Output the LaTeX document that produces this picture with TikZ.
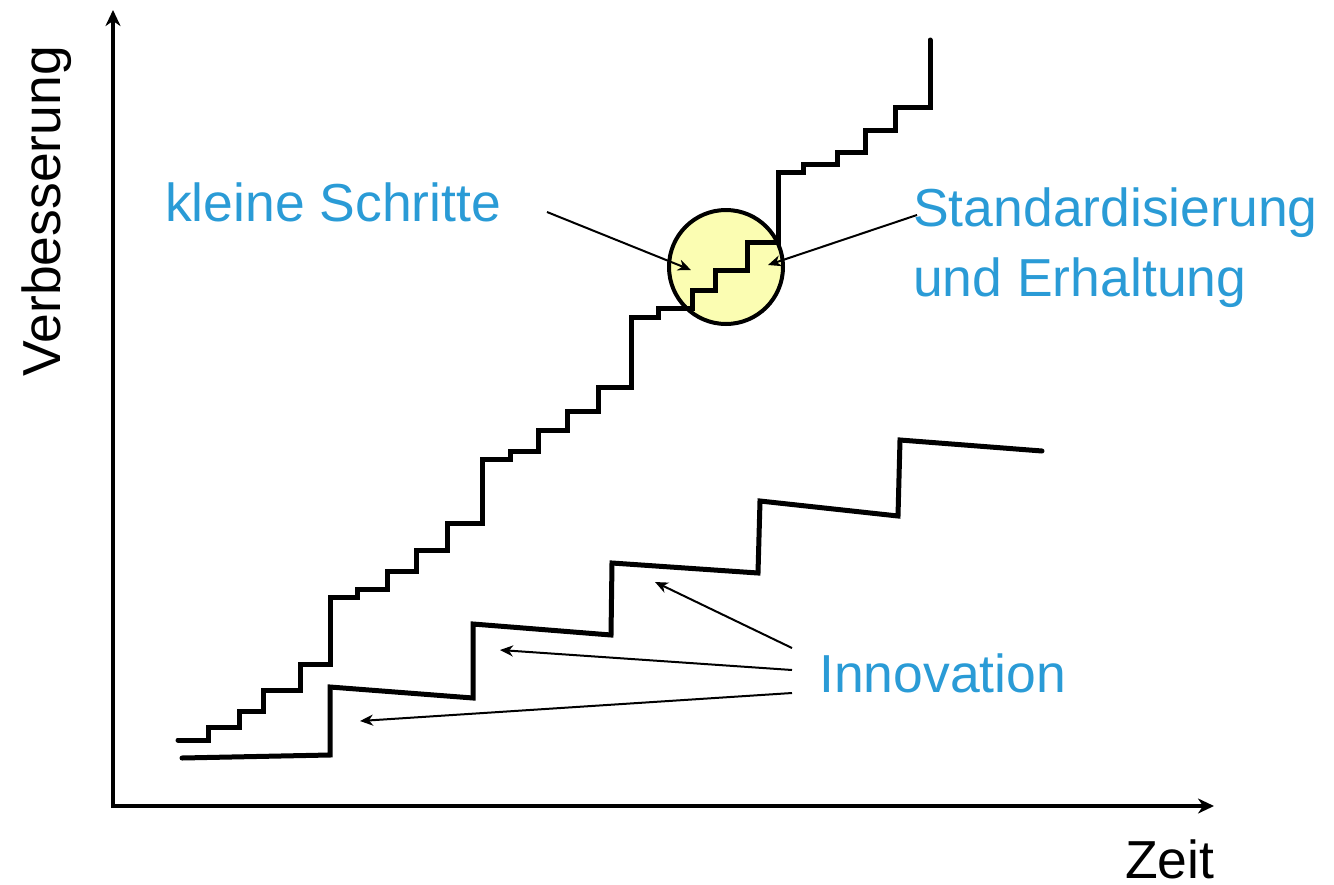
\documentclass[tikz,border=0pt]{standalone}
\usepackage{fontspec}
\setmainfont{Liberation Sans}
\usetikzlibrary{arrows.meta}
\definecolor{lblue}{HTML}{2A9BD6}
\definecolor{lyellow}{HTML}{FBFDB2}
\tikzset{
  stairline/.style={line width=5pt, line join=miter, line cap=round},
  axisline/.style={line width=4pt, -{Stealth[length=16pt,width=15pt,inset=5pt]}},
  pointer/.style={line width=2pt, -{Stealth[length=13pt,width=11pt,inset=4pt]}},
  bluelabel/.style={text=lblue, font=\fontsize{53.5}{64}\selectfont, inner sep=0pt, anchor=base west},
  blacklabel/.style={text=black, font=\fontsize{53.5}{64}\selectfont, inner sep=0pt},
}
\begin{document}
\begin{tikzpicture}[x=1pt,y=-1pt]
\useasboundingbox (0,0) rectangle (1334,884);
% axes
\coordinate (o) at (113,806);
\coordinate (ytop) at (113,10);
\coordinate (xend) at (1214,806);
\draw[axisline] (113,808) -- (ytop);
\draw[axisline] (111,806) -- (xend);
\node[blacklabel, rotate=90, anchor=base] (yl) at (60,211) {Verbesserung};
\node[blacklabel, anchor=base west, text depth=0pt] (xl) at (1125,878) {Zeit};
% circle
\node[circle, draw, line width=4pt, fill=lyellow, minimum size=114pt, inner sep=0pt] (circ) at (726,267) {};
% upper staircase
\draw[stairline] (178,740) -- (208,740) |- (239,727) |- (263,711) |- (300,690) |- (330,664)
  |- (357,597) |- (387,589) |- (416,571) |- (447,550) |- (482,523) |- (510,459)
  |- (538,451) |- (567,430) |- (598,411) |- (631,387) |- (658,317) |- (692,308)
  |- (715,290) |- (747,270) |- (778,242) |- (803,172) |- (837,164) |- (865,152)
  |- (895,130) |- (930,107) -- (930,40);
% lower zigzag
\draw[stairline] (182,758) -- (330,755) -- (330,687) -- (473,698) -- (473,624) -- (611,635)
  -- (612,563) -- (758,573) -- (760,501) -- (898,516) -- (900,440) -- (1042,451);
% labels
\node[bluelabel] (ks) at (165,221) {kleine Schritte};
\node[bluelabel] (st) at (913,226) {Standardisierung};
\node[bluelabel] (ue) at (913,296) {und Erhaltung};
\node[bluelabel] (inn) at (819,692) {Innovation};
% pointer coordinates
\coordinate (ksA) at (547,212);
\coordinate (ksB) at (691,270);
\coordinate (stA) at (917,215);
\coordinate (stB) at (768,265);
\coordinate (i1A) at (792,648);
\coordinate (i1B) at (655,582);
\coordinate (i2A) at (792,670);
\coordinate (i2B) at (500,650);
\coordinate (i3A) at (792,693);
\coordinate (i3B) at (360,721);
\draw[pointer] (ksA) -- (ksB);
\draw[pointer] (stA) -- (stB);
\draw[pointer] (i1A) -- (i1B);
\draw[pointer] (i2A) -- (i2B);
\draw[pointer] (i3A) -- (i3B);
\end{tikzpicture}
\end{document}
